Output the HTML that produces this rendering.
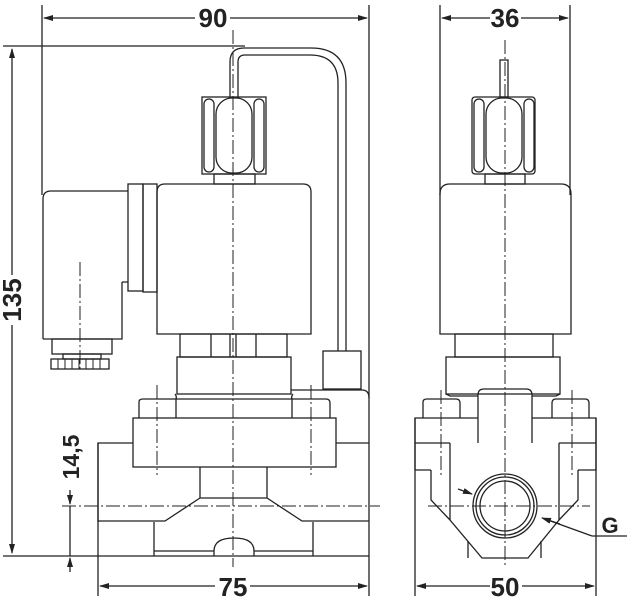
<!DOCTYPE html>
<html><head><meta charset="utf-8"><style>html,body{margin:0;padding:0;background:#fff}svg{display:block}text{font-family:"Liberation Sans Narrow","Liberation Sans",sans-serif;font-weight:bold;fill:#222}</style></head><body>
<svg width="632" height="600" viewBox="0 0 632 600" xmlns="http://www.w3.org/2000/svg">
<defs><marker id="a" markerWidth="10" markerHeight="8" refX="9" refY="4" orient="auto" markerUnits="userSpaceOnUse"><path d="M0,1 L10,4 L0,7 Z" fill="#222"/></marker></defs>
<g stroke="#222" stroke-width="1.3" fill="none">
<line x1="42" y1="5" x2="42" y2="195"/><line x1="369" y1="5" x2="369" y2="596"/>
<line x1="195" y1="18" x2="44" y2="18" marker-end="url(#a)"/><line x1="230" y1="18" x2="367" y2="18" marker-end="url(#a)"/>
<line x1="3" y1="46" x2="245" y2="46"/>
<line x1="3" y1="556" x2="369" y2="556"/>
<line x1="12" y1="275" x2="12" y2="49" marker-end="url(#a)"/><line x1="12" y1="325" x2="12" y2="553" marker-end="url(#a)"/>
<line x1="70" y1="490" x2="70" y2="504" marker-end="url(#a)"/><line x1="70" y1="572" x2="70" y2="558" marker-end="url(#a)"/><line x1="70" y1="506" x2="70" y2="556"/>
<line x1="98" y1="443" x2="98" y2="596"/>
<line x1="215" y1="586" x2="100" y2="586" marker-end="url(#a)"/><line x1="250" y1="586" x2="367" y2="586" marker-end="url(#a)"/>
<line x1="440" y1="5" x2="440" y2="195"/><line x1="570" y1="5" x2="570" y2="195"/>
<line x1="490" y1="18" x2="442" y2="18" marker-end="url(#a)"/><line x1="521" y1="18" x2="568" y2="18" marker-end="url(#a)"/>
<line x1="415" y1="418" x2="415" y2="596"/><line x1="596" y1="418" x2="596" y2="596"/>
<line x1="490" y1="586" x2="417" y2="586" marker-end="url(#a)"/><line x1="522" y1="586" x2="594" y2="586" marker-end="url(#a)"/>
<g stroke-dasharray="14,3,2,3" stroke-width="1"><line x1="233" y1="30" x2="233" y2="567"/><line x1="62" y1="506" x2="380" y2="506"/><line x1="80" y1="262" x2="80" y2="372"/><line x1="505" y1="40" x2="505" y2="568"/><line x1="428" y1="506" x2="590" y2="506"/>
<line x1="157" y1="385" x2="157" y2="475"/><line x1="311" y1="385" x2="311" y2="475"/><line x1="441" y1="390" x2="441" y2="475"/><line x1="572" y1="390" x2="572" y2="475"/></g>
<path d="M230,97 V62 Q230,48 244,48 H311 Q346,48 346,83 V351"/>
<path d="M238,97 V62 Q238,55 245,55 H310 Q338,55 338,83 V351"/>
<rect x="202" y="97" width="64" height="77"/>
<rect x="204" y="99" width="10" height="73" rx="5"/><rect x="216" y="98" width="36" height="75" rx="16"/><rect x="254" y="99" width="10" height="73" rx="5"/>
<rect x="214" y="174" width="41" height="10"/>
<path d="M157,334 V192 Q157,184 165,184 H303 Q311,184 311,192 V334 Z"/>
<rect x="128" y="184" width="15" height="107"/><rect x="143" y="184" width="14" height="108"/>
<path d="M43,339 V199 Q43,191 51,191 H128 M122,282 H128 M122,282 V339 H43"/>
<rect x="52" y="339" width="60" height="15"/><rect x="63" y="354" width="38" height="5"/>
<rect x="51" y="359" width="58" height="10"/>
<path d="M58,359V369M65,359V369M72,359V369M79,359V369M86,359V369M93,359V369M100,359V369" stroke-width="1"/>
<rect x="180" y="334" width="107" height="23"/><path d="M211,334V357M230,334V357M236,334V357M256,334V357"/>
<rect x="177" y="357" width="114" height="37"/>
<rect x="323" y="351" width="38" height="38"/>
<path d="M291,390 H362 Q369,390 369,398"/>
<path d="M175,394 Q177,396 176,399 V418 M293,394 Q291,396 292,399 V418 M176,399 H292"/>
<path d="M139,418 V402 Q139,399 143,399 H176 M292,399 H326 Q330,399 330,403 V418"/>
<rect x="133" y="418" width="203" height="49"/>
<path d="M98,522 V443 H133 M336,443 H369"/>
<path d="M200,467 V498 H267 V467 M200,498 L165,521 H98 M267,498 L302,521 H369"/>
<path d="M154,522 V556 M313,522 V556 M154,551 H214 M254,551 H313 M214,556 V551 Q214,538 234,538 Q254,538 254,551 V556"/>
<rect x="500" y="60" width="8" height="37"/>
<rect x="472" y="97" width="63" height="77" rx="3"/>
<rect x="474" y="99" width="10" height="73" rx="5"/><rect x="486" y="98" width="36" height="75" rx="16"/><rect x="524" y="99" width="10" height="73" rx="5"/>
<rect x="485" y="174" width="40" height="10"/>
<path d="M440,334 V194 Q440,184 450,184 H561 Q571,184 571,194 V334 Z"/>
<rect x="455" y="334" width="98" height="23"/>
<rect x="446" y="357" width="114" height="37"/>
<path d="M478,443 V395 Q478,389 484,389 H526 Q532,389 532,395 V443"/>
<path d="M423,418 V402 Q423,399 427,399 H456 Q460,399 460,403 V418 M552,418 V403 Q552,399 556,399 H585 Q589,399 589,403 V418"/>
<path d="M446,394 L450,396 H478 M560,394 L556,396 H532"/>
<path d="M415,470 V418 H478 M532,418 H596 V470 H578 M415,470 H431 M415,443 H450 M559,443 H596"/>
<path d="M450,443 V520 L482,558 H528 L559,520 V443"/>
<path d="M431,470 V500 L450,520 M578,470 V500 L559,520 M468,541 V558 M541,541 V558"/>
<circle cx="505" cy="506" r="32"/><circle cx="505" cy="506" r="29"/><circle cx="505" cy="506" r="25"/>
<line x1="458" y1="489" x2="472" y2="494" marker-end="url(#a)"/>
<path d="M592,536 H627 M592,536 L545,519"/><line x1="560" y1="524" x2="542" y2="518" marker-end="url(#a)"/>
</g>
<text x="213" y="27" font-size="26" text-anchor="middle">90</text>
<text x="505" y="27" font-size="26" text-anchor="middle">36</text>
<text x="233" y="596" font-size="26" text-anchor="middle">75</text>
<text x="505" y="596" font-size="26" text-anchor="middle">50</text>
<text x="610" y="533" font-size="22" text-anchor="middle">G</text>
<text transform="translate(21,300) rotate(-90)" font-size="26" text-anchor="middle">135</text>
<text transform="translate(79,457) rotate(-90)" font-size="23" text-anchor="middle">14,5</text>
</svg>
</body></html>
